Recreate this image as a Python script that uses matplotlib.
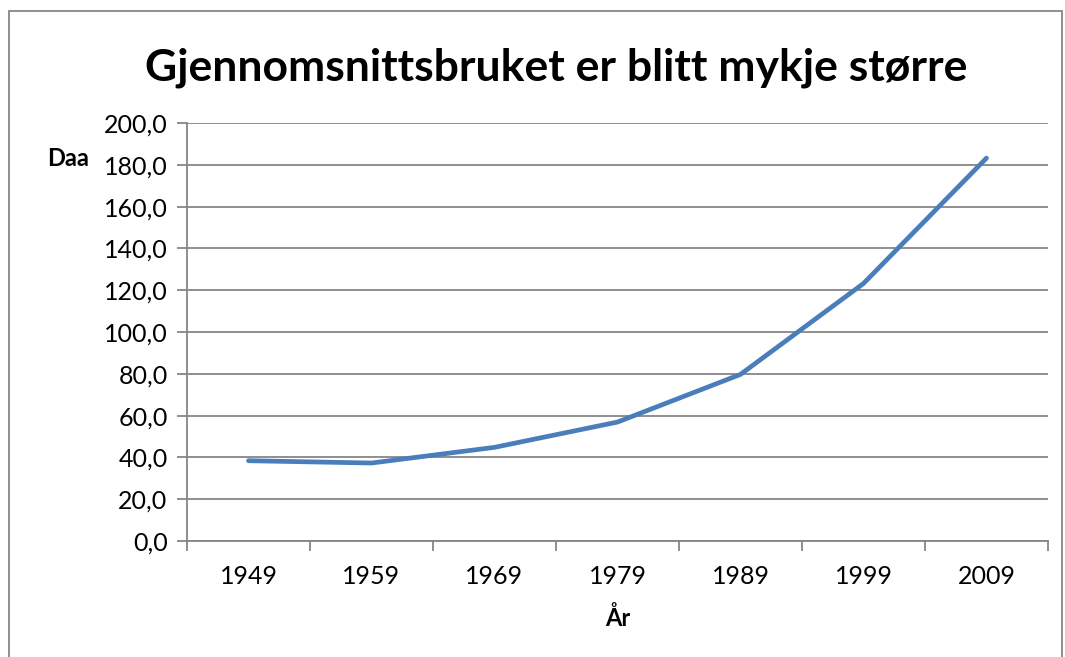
import matplotlib.pyplot as plt
import numpy as np
from matplotlib.patches import Rectangle

# data
years = ["1949", "1959", "1969", "1979", "1989", "1999", "2009"]
daa = [38.4, 37.3, 44.8, 56.9, 79.7, 123.2, 183.2]
yticks = [0, 20, 40, 60, 80, 100, 120, 140, 160, 180, 200]

plt.rcParams['font.family'] = ['Lato', 'DejaVu Sans']
grey = "#868686"

fig = plt.figure(figsize=(10.65, 6.57), dpi=100)
ax = fig.add_axes([0.1756, 0.1766, 0.8084, 0.6362])

x = np.arange(len(years))
ax.plot(x, daa, color="#4A7EBB", linewidth=3.4, solid_capstyle="round", solid_joinstyle="round", zorder=3)

ax.set_xlim(-0.5, len(years) - 0.5)
ax.set_ylim(0, 200)
ax.set_yticks(yticks)
ax.set_yticklabels([f"{v:.1f}".replace(".", ",") for v in yticks])
ax.set_xticks(np.arange(-0.5, len(years), 1.0))
ax.set_xticklabels([])
ax.set_xticks(x, minor=True)
ax.set_xticklabels(years, minor=True)

ax.grid(axis="y", color=grey, linewidth=1.3)
ax.set_axisbelow(True)
for s in ["top", "right"]:
    ax.spines[s].set_visible(False)
for s in ["left", "bottom"]:
    ax.spines[s].set_color(grey)
    ax.spines[s].set_linewidth(1.3)
ax.tick_params(axis="both", which="major", color=grey, width=1.3, length=7, labelsize=18, pad=7)
ax.tick_params(axis="x", which="minor", length=0, labelsize=18, pad=17)

fig.text(556 / 1065, 1 - 68 / 657, "Gjennomsnittsbruket er blitt mykje større", ha="center", va="center",
         fontsize=32, fontweight="bold")
fig.text(68 / 1065, 1 - 158 / 657, "Daa", ha="center", va="center", fontsize=17, fontweight="bold")
fig.text(618 / 1065, 1 - 618 / 657, "År", ha="center", va="center", fontsize=17, fontweight="bold")

fig.patches.append(Rectangle((9 / 1065, -0.05), 1053 / 1065, 1.034, transform=fig.transFigure,
                             fill=False, edgecolor=grey, linewidth=1.3))

fig.savefig("out.png", dpi=100)
